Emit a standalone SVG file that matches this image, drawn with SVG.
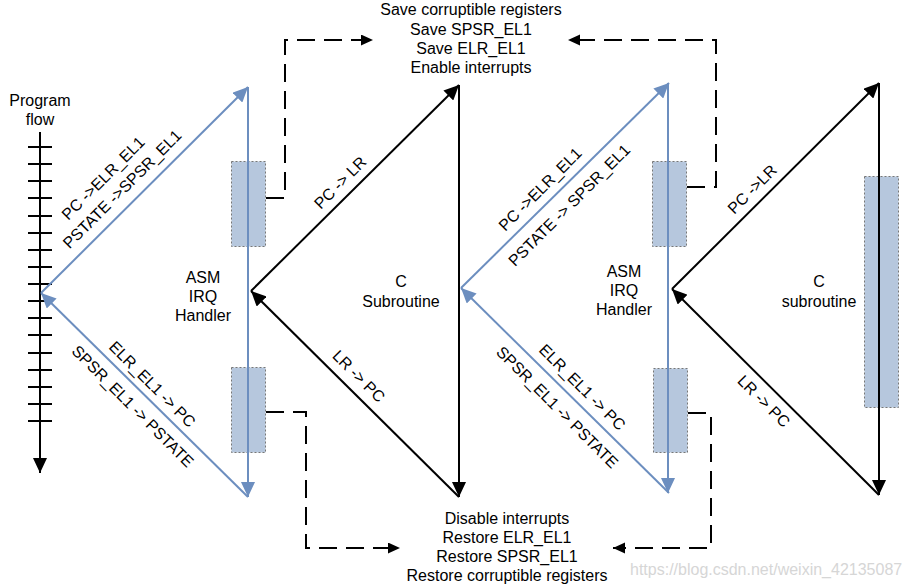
<svg xmlns="http://www.w3.org/2000/svg" width="911" height="587" viewBox="0 0 911 587">
<style>
text{font-family:"Liberation Sans",Arial,sans-serif;font-size:16px;fill:#000;}
.c{text-anchor:middle;}
.rl{text-anchor:middle;}
.blk{fill:none;stroke:#000;stroke-width:2;}
.blu{fill:none;stroke:#6c8ebf;stroke-width:2;}
.dsh{fill:none;stroke:#000;stroke-width:2;stroke-dasharray:18 9;}
.tick{stroke:#000;stroke-width:2;}
.box{fill:#b6c7dd;stroke:#777;stroke-width:1;stroke-dasharray:2 2;}
.wm{fill:#d6d6d6;}
</style>
<defs>
<marker id="ak" markerUnits="userSpaceOnUse" markerWidth="16" markerHeight="14" viewBox="0 0 16 14" refX="15" refY="7" orient="auto"><path d="M0,0 L15,7 L0,14 z" fill="#000"/></marker>
<marker id="ab" markerUnits="userSpaceOnUse" markerWidth="16" markerHeight="14" viewBox="0 0 16 14" refX="15" refY="7" orient="auto"><path d="M0,0 L15,7 L0,14 z" fill="#6c8ebf"/></marker>
<marker id="ad" markerUnits="userSpaceOnUse" markerWidth="13" markerHeight="12" viewBox="0 0 13 12" refX="12" refY="5.5" orient="auto"><path d="M0,0 L12,5.5 L0,11 z" fill="#000"/></marker>
</defs>
<rect width="911" height="587" fill="#fff"/>

<g id="program-flow">
<text class="c" x="40" y="106">Program</text>
<text class="c" x="40" y="125">flow</text>
<line x1="40" y1="132" x2="40" y2="473" class="blk" marker-end="url(#ak)"/>
<g class="tick">
<line x1="28" y1="147" x2="52" y2="147"/><line x1="28" y1="164" x2="52" y2="164"/><line x1="28" y1="181" x2="52" y2="181"/><line x1="28" y1="198" x2="52" y2="198"/><line x1="28" y1="216" x2="52" y2="216"/><line x1="28" y1="233" x2="52" y2="233"/><line x1="28" y1="250" x2="52" y2="250"/><line x1="28" y1="267" x2="52" y2="267"/><line x1="28" y1="284" x2="52" y2="284"/><line x1="28" y1="301" x2="52" y2="301"/><line x1="28" y1="318" x2="52" y2="318"/><line x1="28" y1="335" x2="52" y2="335"/><line x1="28" y1="353" x2="52" y2="353"/><line x1="28" y1="370" x2="52" y2="370"/><line x1="28" y1="387" x2="52" y2="387"/><line x1="28" y1="404" x2="52" y2="404"/><line x1="28" y1="421" x2="52" y2="421"/>
</g>
</g>

<g id="asm-handler-1">
<rect class="box" x="231.5" y="161.5" width="34" height="85"/>
<rect class="box" x="231.5" y="367.5" width="34" height="85"/>
<text class="c" x="203" y="283">ASM</text>
<text class="c" x="203" y="302">IRQ</text>
<text class="c" x="203" y="321">Handler</text>
</g>

<g id="c-subroutine-1">
<text class="c" x="401" y="287">C</text>
<text class="c" x="401" y="307">Subroutine</text>
</g>

<g id="asm-handler-2">
<rect class="box" x="652.5" y="161.5" width="34" height="85"/>
<rect class="box" x="653.5" y="368.5" width="34" height="84"/>
<text class="c" x="624" y="277">ASM</text>
<text class="c" x="624" y="296">IRQ</text>
<text class="c" x="624" y="315">Handler</text>
</g>

<g id="c-subroutine-2">
<rect class="box" x="864.5" y="176.5" width="34" height="231"/>
<text class="c" x="819" y="287">C</text>
<text class="c" x="819" y="307">subroutine</text>
</g>

<g id="save-note">
<text class="c" x="471" y="15">Save corruptible registers</text>
<text class="c" x="471" y="34.5">Save SPSR_EL1</text>
<text class="c" x="471" y="54">Save ELR_EL1</text>
<text class="c" x="471" y="73">Enable interrupts</text>
</g>

<g id="restore-note">
<text class="c" x="507" y="524">Disable interrupts</text>
<text class="c" x="507" y="543">Restore ELR_EL1</text>
<text class="c" x="507" y="562">Restore SPSR_EL1</text>
<text class="c" x="507" y="581">Restore corruptible registers</text>
</g>

<g id="connectors">
<!-- blue triangle 1 -->
<line class="blu" x1="41" y1="293" x2="248" y2="87" marker-end="url(#ab)"/>
<line class="blu" x1="248" y1="87" x2="248" y2="497" marker-end="url(#ab)"/>
<line class="blu" x1="248" y1="497" x2="41" y2="293" marker-end="url(#ab)"/>
<!-- black triangle 1 -->
<line class="blk" x1="251" y1="291" x2="459" y2="85" marker-end="url(#ak)"/>
<line class="blk" x1="459" y1="85" x2="459" y2="497" marker-end="url(#ak)"/>
<line class="blk" x1="459" y1="497" x2="251" y2="291" marker-end="url(#ak)"/>
<!-- blue triangle 2 -->
<line class="blu" x1="461" y1="288" x2="669" y2="83" marker-end="url(#ab)"/>
<line class="blu" x1="668" y1="83" x2="668" y2="493" marker-end="url(#ab)"/>
<line class="blu" x1="669" y1="493" x2="461" y2="288" marker-end="url(#ab)"/>
<!-- black triangle 2 -->
<line class="blk" x1="672" y1="289" x2="879" y2="83" marker-end="url(#ak)"/>
<line class="blk" x1="879" y1="83" x2="879" y2="495" marker-end="url(#ak)"/>
<line class="blk" x1="879" y1="495" x2="672" y2="289" marker-end="url(#ak)"/>
<!-- dashed -->
<path class="dsh" d="M266,198 H285 V40 H373" marker-end="url(#ad)"/>
<path class="dsh" d="M687,187 H716 V40 H568" marker-end="url(#ad)"/>
<path class="dsh" d="M266,412 H306 V548 H400" marker-end="url(#ad)"/>
<path class="dsh" d="M688,413 H711 V548 H613" marker-end="url(#ad)"/>
<!-- labels -->
<text class="rl" dy="0.36em" transform="translate(103,178) rotate(-45)">PC -&gt;ELR_EL1</text>
<text class="rl" dy="0.36em" transform="translate(122,189) rotate(-45)">PSTATE -&gt;SPSR_EL1</text>
<text class="rl" dy="0.36em" transform="translate(152.5,384) rotate(45)">ELR_EL1 -&gt; PC</text>
<text class="rl" dy="0.36em" transform="translate(133,406) rotate(45)">SPSR_EL1 -&gt; PSTATE</text>
<text class="rl" dy="0.36em" transform="translate(340,182.5) rotate(-45)">PC -&gt; LR</text>
<text class="rl" dy="0.36em" transform="translate(359,376) rotate(45)">LR -&gt; PC</text>
<text class="rl" dy="0.36em" transform="translate(540,189) rotate(-45)">PC -&gt;ELR_EL1</text>
<text class="rl" dy="0.36em" transform="translate(569,205) rotate(-45)">PSTATE -&gt; SPSR_EL1</text>
<text class="rl" dy="0.36em" transform="translate(582.5,387) rotate(45)">ELR_EL1 -&gt; PC</text>
<text class="rl" dy="0.36em" transform="translate(557.5,407) rotate(45)">SPSR_EL1 -&gt; PSTATE</text>
<text class="rl" dy="0.36em" transform="translate(752,189) rotate(-45)">PC -&gt;LR</text>
<text class="rl" dy="0.36em" transform="translate(764,401) rotate(45)">LR -&gt; PC</text>
</g>

<text class="wm" x="630" y="575">https://blog.csdn.net/weixin_42135087</text>
</svg>
